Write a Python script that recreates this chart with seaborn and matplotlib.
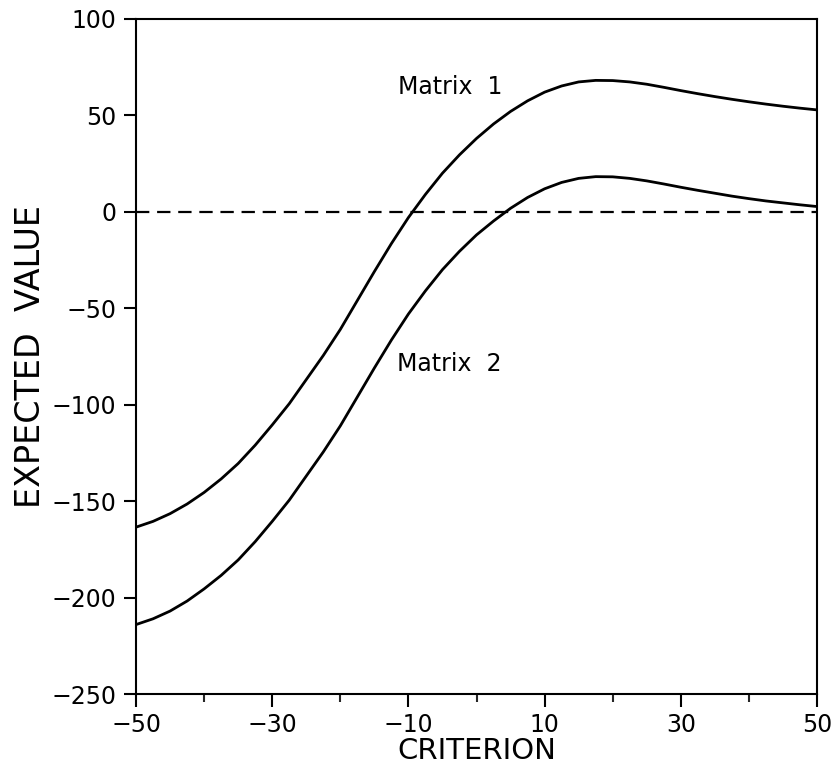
import numpy as np
import pandas as pd
import matplotlib
matplotlib.use("Agg")
import matplotlib.pyplot as plt
import seaborn as sns
from matplotlib.ticker import FixedLocator

# ---- data ----
criterion = [-50, -47.5, -45, -42.5, -40, -37.5, -35, -32.5, -30, -27.5, -25,
             -22.5, -20, -17.5, -15, -12.5, -10, -7.5, -5, -2.5, 0,
             2.5, 5, 7.5, 10, 12.5, 15, 17.5, 20, 22.5, 25,
             27.5, 30, 32.5, 35, 37.5, 40, 42.5, 45, 47.5, 50]
matrix1 = [-163.5, -160.5, -156.5, -151.5, -145.5, -138.5, -130.5, -121, -110.5, -99.5, -87,
           -74.5, -61, -46, -31, -16.5, -3, 9, 20, 29.5, 38,
           45.5, 52, 57.5, 62, 65.2, 67.3, 68.1, 68, 67.3, 66.1,
           64.5, 62.8, 61.2, 59.7, 58.3, 57, 55.8, 54.7, 53.7, 52.8]
matrix2 = [-214, -211, -207, -201.8, -195.5, -188.5, -180.5, -171, -160.5, -149.5, -137,
           -124.5, -111, -96, -81, -66.5, -53, -41, -30, -20.5, -12,
           -4.8, 1.8, 7.4, 11.9, 15.2, 17.3, 18.2, 18.1, 17.3, 16,
           14.4, 12.7, 11.1, 9.6, 8.1, 6.8, 5.6, 4.6, 3.6, 2.7]
series_names = ["Matrix  1", "Matrix  2"]
x_ticks = [-50, -30, -10, 10, 30, 50]
x_minor = [-40, -20, 0, 20, 40]
y_ticks = [-250, -200, -150, -100, -50, 0, 50, 100]

df = pd.DataFrame({
    "criterion": criterion * 2,
    "value": matrix1 + matrix2,
    "series": [series_names[0]] * len(criterion) + [series_names[1]] * len(criterion),
})

sns.set_style("ticks")
plt.rcParams["font.family"] = ["DejaVu Sans"]
plt.rcParams["text.color"] = "black"
plt.rcParams["axes.labelcolor"] = "black"

fig = plt.figure(figsize=(8.33, 7.69), dpi=100)
ax = fig.add_axes([0.1633, 0.0975, 0.8175, 0.878])

sns.lineplot(data=df, x="criterion", y="value", hue="series",
             palette=["black", "black"], estimator=None, legend=False,
             linewidth=2.0, ax=ax)
for ln in ax.get_lines():
    ln.set_solid_joinstyle("round")

ax.axhline(0, color="black", linewidth=1.6, dashes=(6, 3.5))

ax.set_xlim(-50, 50)
ax.set_ylim(-250, 100)
ax.xaxis.set_major_locator(FixedLocator(x_ticks))
ax.xaxis.set_minor_locator(FixedLocator(x_minor))
ax.yaxis.set_major_locator(FixedLocator(y_ticks))

for s in ax.spines.values():
    s.set_visible(True)
    s.set_linewidth(1.5)
    s.set_color("black")

ax.tick_params(axis="both", which="major", direction="out", length=9,
               width=1.5, labelsize=17, colors="black", pad=5)
ax.tick_params(axis="x", which="minor", direction="out", length=6, width=1.5)
ax.tick_params(top=False, right=False, which="both")

ax.set_xlabel("CRITERION", fontsize=21, labelpad=0)
ax.set_ylabel("EXPECTED  VALUE", fontsize=24, labelpad=3)

ax.text(-11.5, 61, series_names[0], fontsize=17, va="baseline", ha="left")
ax.text(-11.7, -82.5, series_names[1], fontsize=17, va="baseline", ha="left")

fig.savefig("out.png", dpi=100)
